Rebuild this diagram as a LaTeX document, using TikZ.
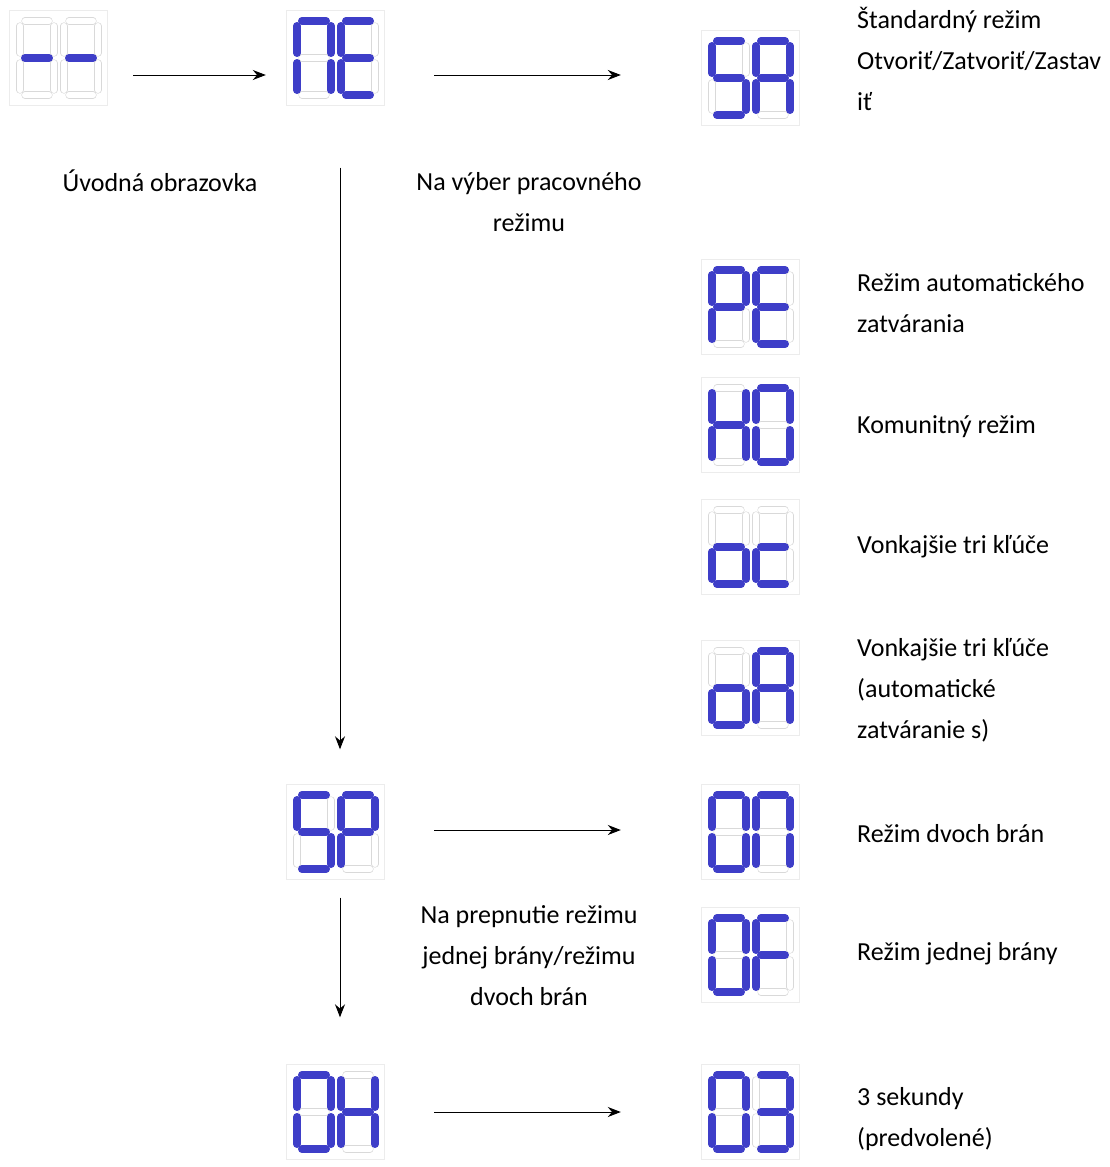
\documentclass[tikz,border=0pt]{standalone}
\usepackage{fontspec}
\setmainfont{Carlito}
\usetikzlibrary{arrows.meta,positioning,calc}

\definecolor{lcdblue}{RGB}{62,62,200}

% one digit of a seven-segment display, lit segments in #1
\newcommand{\drawdigit}[1]{%
  \coordinate (a1) at (5,0);   \coordinate (a2) at (29,0);
  \coordinate (b1) at (34,5);  \coordinate (b2) at (34,32);
  \coordinate (c1) at (34,42); \coordinate (c2) at (34,69);
  \coordinate (d1) at (5,74);  \coordinate (d2) at (29,74);
  \coordinate (e1) at (0,42);  \coordinate (e2) at (0,69);
  \coordinate (f1) at (0,5);   \coordinate (f2) at (0,32);
  \coordinate (g1) at (5,37);  \coordinate (g2) at (29,37);
  \foreach \s in {a,b,c,d,e,f,g} \draw[segoff] (\s1) -- (\s2);
  \foreach \s in {#1} \draw[segon] (\s1) -- (\s2);
}
% two-digit display: name, centre x, centre y, digit 1, digit 2
\newcommand{\lcd}[5]{%
  \node[lcdbox] (#1) at (#2,#3) {};
  \begin{scope}[shift={(#2-38,#3-37)}]\drawdigit{#4}\end{scope}
  \begin{scope}[shift={(#2+6,#3-37)}]\drawdigit{#5}\end{scope}
}

\begin{document}
\begin{tikzpicture}[
    x=1pt, y=-1pt,
    lcdbox/.style={rectangle, draw=gray!15, minimum width=98pt, minimum height=95pt},
    segon/.style={draw=lcdblue, line width=8pt, line cap=round},
    segoff/.style={draw=gray!30, double=white, double distance=6pt, line width=0.6pt, line cap=round},
    lbl/.style={align=left, anchor=west, inner sep=0pt, font=\fontsize{26}{41}\selectfont},
    clbl/.style={align=center, font=\fontsize{26}{41}\selectfont},
    arrow/.style={-{Stealth[length=13pt,width=10pt]}, line width=1pt}
]
\useasboundingbox (0,0) rectangle (1109,1167);

% Displays
\lcd{intro}{58}{58}{g}{g}
\lcd{ne}{335}{58}{a,b,c,e,f}{a,d,e,f,g}
\lcd{sa}{750}{78}{a,f,g,c,d}{a,b,c,e,f,g}
\lcd{pe}{750}{307}{a,b,e,f,g}{a,d,e,f,g}
\lcd{ho}{750}{425}{b,c,e,f,g}{a,b,c,d,e,f}
\lcd{oc}{750}{547}{c,d,e,g}{d,e,g}
\lcd{oa}{750}{688}{c,d,e,g}{a,b,c,e,f,g}
\lcd{sp}{335}{832}{a,f,g,c,d}{a,b,e,f,g}
\lcd{oo}{750}{832}{a,b,c,d,e,f}{a,b,c,e,f}
\lcd{of}{750}{955}{a,b,c,d,e,f}{a,e,f,g}
\lcd{oh}{335}{1112}{a,b,c,d,e,f}{b,c,e,f,g}
\lcd{ot}{750}{1112}{a,b,c,d,e,f}{a,b,c,d,g}

% Labels
\node[clbl] (introtxt) at (160,181) {Úvodná obrazovka};
\node[clbl] (netxt) at (529,202) {Na výber pracovného\\režimu};
\node[clbl] (sptxt) at (529,956) {Na prepnutie režimu\\jednej brány/režimu\\dvoch brán};
\node[lbl] (satxt) at (857,59) {Štandardný režim\\Otvoriť/Zatvoriť/Zastav\\iť};
\node[lbl] (petxt) at (857,303) {Režim automatického\\zatvárania};
\node[lbl] (hotxt) at (857,427) {Komunitný režim};
\node[lbl] (octxt) at (857,547) {Vonkajšie tri kľúče};
\node[lbl] (oatxt) at (857,690) {Vonkajšie tri kľúče\\(automatické\\zatváranie s)};
\node[lbl] (ootxt) at (857,834) {Režim dvoch brán};
\node[lbl] (oftxt) at (857,954) {Režim jednej brány};
\node[lbl] (ottxt) at (857,1119) {3 sekundy\\(predvolené)};

% Arrows
\draw[arrow] ($(intro.east)+(26,17)$) -- ($(ne.west)+(-20,17)$);
\draw[arrow] ($(ne.east)+(50,17)$) -- ($(sa.west)+(-80,-3)$);
\draw[arrow] ($(ne.south)+(5,62)$) -- ($(sp.north)+(5,-35)$);
\draw[arrow] ($(sp.east)+(50,-2)$) -- ($(oo.west)+(-80,-2)$);
\draw[arrow] ($(sp.south)+(5,18)$) -- ($(oh.north)+(5,-47)$);
\draw[arrow] ($(oh.east)+(50,0)$) -- ($(ot.west)+(-80,0)$);
\end{tikzpicture}
\end{document}
